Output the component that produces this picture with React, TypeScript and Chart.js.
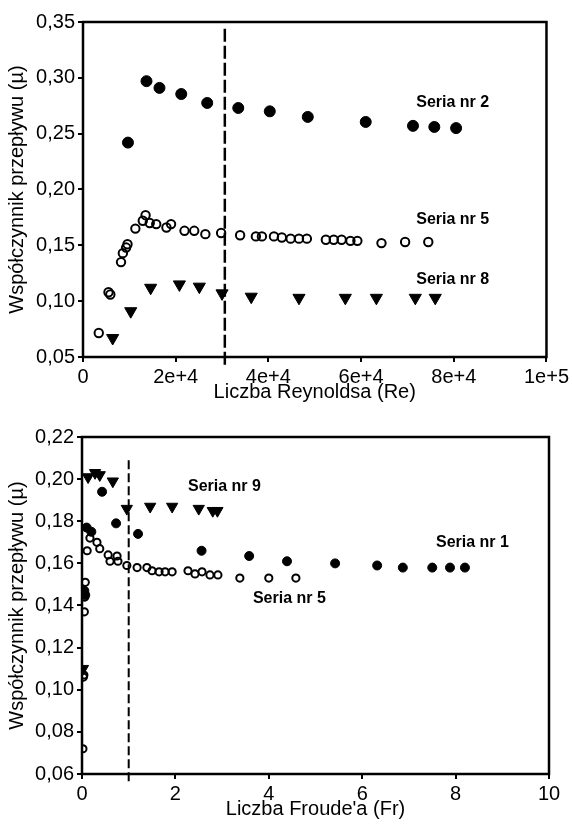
import React, { useEffect, useRef } from 'react';
import { Chart, registerables } from 'chart.js';

Chart.register(...registerables);

const FONT = '"Liberation Sans", Arial, Helvetica, sans-serif';

// ---------- Top chart: Reynolds number ----------
const reTickValues = [0, 20000, 40000, 60000, 80000, 100000];
const reTickLabels = ['0', '2e+4', '4e+4', '6e+4', '8e+4', '1e+5'];
const muTopTickValues = [0.05, 0.1, 0.15, 0.2, 0.25, 0.3, 0.35];
const muTopTickLabels = ['0,05', '0,10', '0,15', '0,20', '0,25', '0,30', '0,35'];

const reSeria2X = [9700, 13700, 16500, 21200, 26800, 33500, 40300, 48500, 61000, 71200, 75800, 80500];
const reSeria2Y = [0.242, 0.297, 0.291, 0.2855, 0.2775, 0.273, 0.27, 0.265, 0.2605, 0.257, 0.256, 0.255];

const reSeria5X = [3400, 5500, 5900, 8200, 8600, 9300, 9600, 11300, 12900, 13500, 14400, 15800, 18000, 19000, 21900, 24000, 26400, 29800, 33900, 37300, 38600, 41200, 42900, 44800, 46600, 48300, 52400, 54100, 55800, 57700, 59200, 64400, 69500, 74500];
const reSeria5Y = [0.0715, 0.108, 0.106, 0.135, 0.143, 0.148, 0.151, 0.165, 0.172, 0.177, 0.17, 0.169, 0.166, 0.169, 0.163, 0.163, 0.16, 0.161, 0.159, 0.158, 0.158, 0.158, 0.157, 0.156, 0.156, 0.156, 0.155, 0.155, 0.155, 0.154, 0.154, 0.152, 0.153, 0.153];

const reSeria8X = [6400, 10300, 14600, 20800, 25100, 30000, 36300, 46600, 56600, 63300, 71700, 76000];
const reSeria8Y = [0.067, 0.091, 0.112, 0.115, 0.113, 0.107, 0.104, 0.103, 0.103, 0.103, 0.103, 0.103];

const reThreshold = 30600;
const reThresholdY = [0.344, 0.0428];

const reLabels = [
  { text: 'Seria nr 2', x: 71900, y: 0.278 },
  { text: 'Seria nr 5', x: 71900, y: 0.1727 },
  { text: 'Seria nr 8', x: 71900, y: 0.119 },
];

// ---------- Bottom chart: Froude number ----------
const frTickValues = [0, 2, 4, 6, 8, 10];
const frTickLabels = ['0', '2', '4', '6', '8', '10'];
const muBotTickValues = [0.06, 0.08, 0.1, 0.12, 0.14, 0.16, 0.18, 0.2, 0.22];
const muBotTickLabels = ['0,06', '0,08', '0,10', '0,12', '0,14', '0,16', '0,18', '0,20', '0,22'];

const frSeria1X = [0.05, 0.07, 0.1, 0.2, 0.43, 0.73, 1.2, 2.56, 3.58, 4.39, 5.42, 6.32, 6.87, 7.5, 7.88, 8.2];
const frSeria1Y = [0.147, 0.145, 0.177, 0.175, 0.194, 0.179, 0.174, 0.166, 0.1635, 0.161, 0.16, 0.159, 0.158, 0.158, 0.158, 0.158];

const frSeria5X = [0.02, 0.03, 0.04, 0.05, 0.06, 0.07, 0.11, 0.17, 0.32, 0.38, 0.56, 0.6, 0.75, 0.77, 0.96, 1.18, 1.39, 1.5, 1.65, 1.78, 1.93, 2.27, 2.42, 2.57, 2.74, 2.91, 3.38, 4.0, 4.58];
const frSeria5Y = [0.072, 0.106, 0.107, 0.137, 0.144, 0.151, 0.166, 0.172, 0.17, 0.167, 0.164, 0.161, 0.1635, 0.161, 0.159, 0.158, 0.158, 0.1565, 0.156, 0.156, 0.156, 0.1565, 0.155, 0.156, 0.1545, 0.1545, 0.153, 0.153, 0.153];

const frSeria9X = [0.02, 0.13, 0.28, 0.38, 0.66, 0.96, 1.46, 1.93, 2.5, 2.8, 2.9];
const frSeria9Y = [0.11, 0.201, 0.203, 0.202, 0.199, 0.186, 0.187, 0.187, 0.186, 0.185, 0.185];

const frThreshold = 1;
const frThresholdY = [0.209, 0.0553];

const frLabels = [
  { text: 'Seria nr 9', x: 2.27, y: 0.1963 },
  { text: 'Seria nr 1', x: 7.58, y: 0.1697 },
  { text: 'Seria nr 5', x: 3.66, y: 0.1431 },
];

const pts = (xs: number[], ys: number[]) => xs.map((x, i) => ({ x, y: ys[i] }));

const framePlugin = {
  id: 'frame',
  afterDatasetsDraw(chart: any, _args: any, opts: any) {
    const { ctx, chartArea: a, scales } = chart;
    ctx.save();
    ctx.strokeStyle = '#000';
    ctx.lineWidth = 2.5;
    ctx.strokeRect(a.left, a.top, a.right - a.left, a.bottom - a.top);
    ctx.font = `bold 16px ${FONT}`;
    ctx.fillStyle = '#000';
    ctx.textBaseline = 'middle';
    ctx.textAlign = 'left';
    (opts.labels || []).forEach((l: any) => {
      ctx.fillText(l.text, scales.x.getPixelForValue(l.x), scales.y.getPixelForValue(l.y));
    });
    ctx.restore();
  },
};

interface Cfg {
  padTop: number;
  yWidth: number;
  xHeight: number;
  xMin: number;
  xMax: number;
  yMin: number;
  yMax: number;
  xTicks: number[];
  xLabels: string[];
  yTicks: number[];
  yLabels: string[];
  xTitle: string;
  xTitlePad: number;
  datasets: any[];
  labels: any[];
}

function makeConfig(c: Cfg): any {
  const tickFont = { family: FONT, size: 20 };
  return {
    type: 'scatter',
    data: { datasets: c.datasets },
    plugins: [framePlugin],
    options: {
      animation: false,
      responsive: false,
      devicePixelRatio: 1,
      layout: { padding: { top: c.padTop, right: 23, bottom: 0, left: 0 } },
      plugins: {
        legend: { display: false },
        tooltip: { enabled: false },
        frame: { labels: c.labels },
      },
      scales: {
        x: {
          type: 'linear',
          min: c.xMin,
          max: c.xMax,
          afterBuildTicks: (s: any) => {
            s.ticks = c.xTicks.map((v) => ({ value: v }));
          },
          afterFit: (s: any) => {
            s.height = c.xHeight;
          },
          ticks: {
            callback: (_v: any, i: number) => c.xLabels[i],
            font: tickFont,
            color: '#000',
            padding: 3,
            maxRotation: 0,
            autoSkip: false,
          },
          grid: { drawOnChartArea: false, drawTicks: true, tickLength: 5, color: '#000', lineWidth: 2 },
          border: { display: false },
          title: {
            display: true,
            text: c.xTitle,
            font: tickFont,
            color: '#000',
            padding: { top: 0, bottom: c.xTitlePad },
          },
        },
        y: {
          type: 'linear',
          min: c.yMin,
          max: c.yMax,
          afterBuildTicks: (s: any) => {
            s.ticks = c.yTicks.map((v) => ({ value: v }));
          },
          afterFit: (s: any) => {
            s.width = c.yWidth;
          },
          ticks: {
            callback: (_v: any, i: number) => c.yLabels[i],
            font: tickFont,
            color: '#000',
            padding: 3,
            autoSkip: false,
          },
          grid: { drawOnChartArea: false, drawTicks: true, tickLength: 5, color: '#000', lineWidth: 2 },
          border: { display: false },
          title: {
            display: true,
            text: 'Współczynnik przepływu (µ)',
            font: tickFont,
            color: '#000',
            padding: { top: 5, bottom: 0 },
          },
        },
      },
    },
  };
}

const filled = (data: any[], r: number) => ({
  data,
  pointStyle: 'circle',
  pointRadius: r,
  pointBackgroundColor: '#000',
  pointBorderColor: '#000',
  pointBorderWidth: 1,
  showLine: false,
});
const open = (data: any[], r: number) => ({
  data,
  pointStyle: 'circle',
  pointRadius: r,
  pointBackgroundColor: 'rgba(255,255,255,0)',
  pointBorderColor: '#000',
  pointBorderWidth: 2,
  showLine: false,
});
const tri = (data: any[], r: number) => ({
  data,
  pointStyle: 'triangle',
  pointRotation: 180,
  pointRadius: r,
  pointBackgroundColor: '#000',
  pointBorderColor: '#000',
  pointBorderWidth: 1,
  showLine: false,
});
const dashed = (x: number, ys: number[], w: number, dash: number[]) => ({
  type: 'line',
  data: ys.map((y) => ({ x, y })),
  borderColor: '#000',
  borderWidth: w,
  borderDash: dash,
  pointRadius: 0,
  showLine: true,
  fill: false,
  clip: false,
});

function ChartCanvas({ config, width, height, top }: { config: any; width: number; height: number; top: number }) {
  const ref = useRef<HTMLCanvasElement>(null);
  useEffect(() => {
    if (!ref.current) return;
    const chart = new Chart(ref.current, config);
    return () => chart.destroy();
  }, [config]);
  return (
    <canvas
      ref={ref}
      width={width}
      height={height}
      style={{ position: 'absolute', left: 0, top, width, height, display: 'block' }}
    />
  );
}

const topConfig = makeConfig({
  padTop: 22,
  yWidth: 83,
  xHeight: 55,
  xMin: 0,
  xMax: 100000,
  yMin: 0.05,
  yMax: 0.35,
  xTicks: reTickValues,
  xLabels: reTickLabels,
  yTicks: muTopTickValues,
  yLabels: muTopTickLabels,
  xTitle: 'Liczba Reynoldsa (Re)',
  xTitlePad: 8,
  labels: reLabels,
  datasets: [
    dashed(reThreshold, reThresholdY, 2.5, [13, 4]),
    filled(pts(reSeria2X, reSeria2Y), 5.5),
    open(pts(reSeria5X, reSeria5Y), 4.2),
    tri(pts(reSeria8X, reSeria8Y), 7),
  ],
});

const bottomConfig = makeConfig({
  padTop: 25,
  yWidth: 82,
  xHeight: 51,
  xMin: 0,
  xMax: 10,
  yMin: 0.06,
  yMax: 0.22,
  xTicks: frTickValues,
  xLabels: frTickLabels,
  yTicks: muBotTickValues,
  yLabels: muBotTickLabels,
  xTitle: "Liczba Froude'a (Fr)",
  xTitlePad: 4,
  labels: frLabels,
  datasets: [
    dashed(frThreshold, frThresholdY, 2, [9, 4]),
    filled(pts(frSeria1X, frSeria1Y), 4.5),
    open(pts(frSeria5X, frSeria5Y), 3.6),
    tri(pts(frSeria9X, frSeria9Y), 6.5),
  ],
});

export default function App() {
  return (
    <div style={{ position: 'absolute', left: 0, top: 0, width: 572, height: 825, background: '#fff', overflow: 'hidden' }}>
      <ChartCanvas config={topConfig} width={572} height={412} top={0} />
      <ChartCanvas config={bottomConfig} width={572} height={413} top={412} />
    </div>
  );
}
